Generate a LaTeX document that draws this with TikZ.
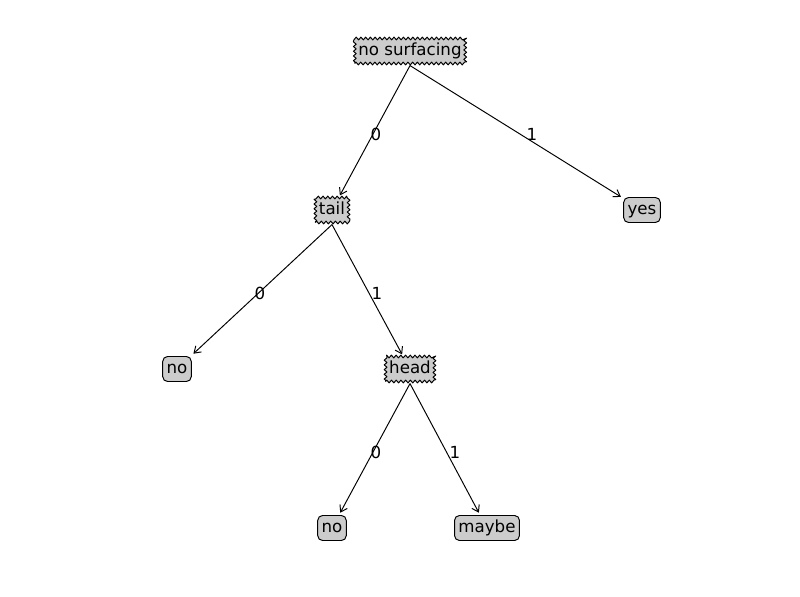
\documentclass[tikz,border=0pt]{standalone}
\usepackage{fontspec}
\setmainfont{DejaVu Sans}
\usetikzlibrary{positioning,arrows.meta,decorations.pathmorphing}
\definecolor{boxGray}{gray}{0.8}

\begin{document}
\begin{tikzpicture}[x=0.72pt, y=-0.72pt, font=\fontsize{12}{14}\selectfont,
  decnode/.style={draw, fill=boxGray, line width=0.7pt, line join=round, inner xsep=2.6pt, inner ysep=0pt,
    text height=9.2pt, text depth=2.6pt, minimum height=18pt, outer sep=1.5pt,
    decorate, decoration={zigzag, segment length=3.4pt, amplitude=1pt}},
  leafnode/.style={draw, fill=boxGray, line width=0.7pt, rounded corners=3.5pt, inner xsep=2.8pt,
    inner ysep=0pt, text height=9.2pt, text depth=2.6pt, minimum height=18pt, outer sep=2pt},
  edgelbl/.style={inner sep=0pt},
  branch/.style={-{Straight Barb[length=4.5pt, width=6pt]}, line width=0.7pt}]
  \useasboundingbox (0,0) rectangle (800,596);

  % Decision nodes
  \node[decnode] (surf) at (410,51) {no surfacing};
  \node[decnode] (tail) at (332,210) {tail};
  \node[decnode] (head) at (410,369) {head};

  % Leaves
  \node[leafnode] (yes) at (642,210) {yes};
  \node[leafnode] (noA) at (177,369) {no};
  \node[leafnode] (noB) at (332,528) {no};
  \node[leafnode] (maybe) at (487,528) {maybe};

  % Branches
  \draw[branch] (surf.south) -- (tail);
  \draw[branch] (surf.south) -- (yes);
  \draw[branch] (tail.south) -- (noA);
  \draw[branch] (tail.south) -- (head);
  \draw[branch] (head.south) -- (noB);
  \draw[branch] (head.south) -- (maybe);

  % Branch values
  \node[edgelbl] (lSurf0) at (376,134) {0};
  \node[edgelbl] (lSurf1) at (532,134) {1};
  \node[edgelbl] (lTail0) at (260,293) {0};
  \node[edgelbl] (lTail1) at (377,293) {1};
  \node[edgelbl] (lHead0) at (376,452) {0};
  \node[edgelbl] (lHead1) at (455,452) {1};
\end{tikzpicture}
\end{document}
